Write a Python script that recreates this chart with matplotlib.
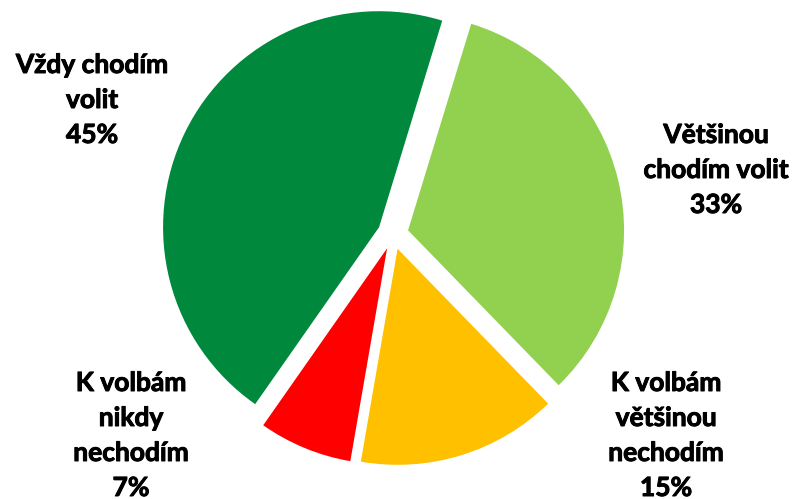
import matplotlib
matplotlib.use("Agg")
import matplotlib.pyplot as plt
import matplotlib.patheffects as pe

# Data (clockwise order starting near 12 o'clock)
categories = ["Většinou\nchodím volit", "K volbám\nvětšinou\nnechodím",
              "K volbám\nnikdy\nnechodím", "Vždy chodím\nvolit"]
values = [33, 15, 7, 45]
colors = ["#92D050", "#FFC000", "#FF0000", "#00893D"]

W, H = 796, 499
CX, CY, R = 393, 234, 216  # pie centre and radius in pixels (y down)

fig = plt.figure(figsize=(W / 100, H / 100), dpi=100)
ax = fig.add_axes([0, 0, 1, 1])
ax.pie(values, colors=colors, startangle=90 - 17, counterclock=False,
       explode=[15.5 / R] * len(values), radius=1, center=(0, 0),
       wedgeprops=dict(linewidth=0))
ax.set_xlim(-CX / R, (W - CX) / R)
ax.set_ylim(-(H - CY) / R, CY / R)
ax.set_aspect("equal")
ax.axis("off")

# label centres (pixels) and line y positions
label_x = [716, 666, 131, 92]
label_y0 = [135, 383, 383, 65]
line_gap = 35

for cat, val, lx, ly in zip(categories, values, label_x, label_y0):
    lines = cat.split("\n") + [f"{val}%"]
    for i, line in enumerate(lines):
        ax.text(lx / W, 1 - (ly + i * line_gap) / H, line,
                transform=ax.transAxes, ha="center", va="center",
                fontsize=19, fontweight="bold", family="Lato", color="black",
                path_effects=[pe.withStroke(linewidth=0.7, foreground="black")])

fig.savefig("out.png", dpi=100)
